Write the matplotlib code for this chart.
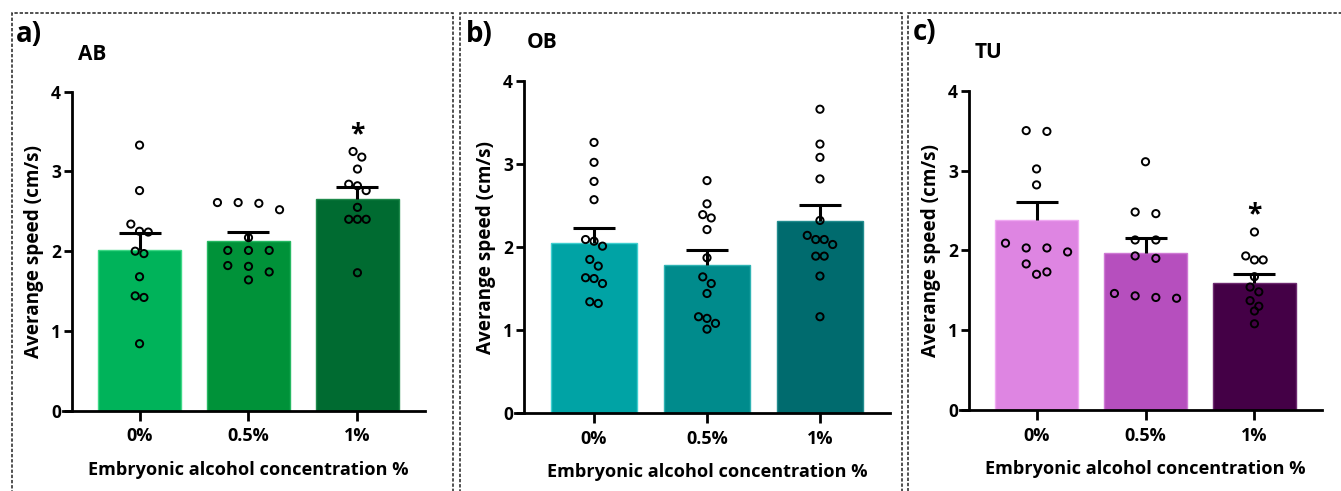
import numpy as np
import matplotlib
matplotlib.use("Agg")
import matplotlib.pyplot as plt
from matplotlib.patches import Rectangle

plt.rcParams['font.family'] = ['Open Sans', 'DejaVu Sans']

groups = ["0%", "0.5%", "1%"]

# individual fish, average speed (cm/s)
ab_pts = [
    [3.33, 2.76, 2.34, 2.25, 2.24, 2.00, 1.97, 1.68, 1.44, 1.42, 0.84],
    [2.61, 2.60, 2.52, 2.61, 2.17, 2.01, 2.01, 2.01, 1.82, 1.81, 1.74, 1.64],
    [3.25, 3.18, 3.03, 2.84, 2.82, 2.76, 2.55, 2.40, 2.40, 2.40, 1.73],
]
ob_pts = [
    [3.26, 3.02, 2.79, 2.57, 2.09, 2.07, 2.01, 1.85, 1.77, 1.63, 1.62, 1.56, 1.34, 1.32],
    [2.80, 2.52, 2.39, 2.35, 2.21, 1.87, 1.64, 1.56, 1.44, 1.16, 1.14, 1.08, 1.01],
    [3.66, 3.24, 3.08, 2.82, 2.32, 2.14, 2.09, 2.09, 2.03, 1.89, 1.89, 1.65, 1.16],
]
tu_pts = [
    [3.50, 3.49, 3.02, 2.82, 2.09, 2.03, 2.03, 1.98, 1.83, 1.73, 1.70],
    [3.11, 2.48, 2.46, 2.13, 2.13, 1.93, 1.90, 1.46, 1.43, 1.41, 1.40],
    [2.23, 1.93, 1.88, 1.88, 1.67, 1.54, 1.48, 1.37, 1.30, 1.24, 1.08],
]

# group means and SEM
ab_mean = [2.02, 2.13, 2.66]
ab_sem = [0.21, 0.11, 0.15]
ob_mean = [2.05, 1.78, 2.31]
ob_sem = [0.18, 0.18, 0.20]
tu_mean = [2.38, 1.97, 1.59]
tu_sem = [0.22, 0.18, 0.11]

ab_sig = [False, False, True]
ob_sig = [False, False, False]
tu_sig = [False, False, True]

panels = [
    dict(tag="a)", name="AB", pts=ab_pts, mean=ab_mean, sem=ab_sem, sig=ab_sig,
         colors=["#00B35A", "#009239", "#006B31"],
         edges=["#3fd886", "#27b862", "#1f8a4c"],
         spread=[0.08, 0.19, 0.08],
         rect=[72, 91.7, 425, 410.7], box=[12, 13, 453, 495],
         tag_xy=(16, 34), name_xy=(78, 54)),
    dict(tag="b)", name="OB", pts=ob_pts, mean=ob_mean, sem=ob_sem, sig=ob_sig,
         colors=["#00A3A5", "#008B8C", "#006B6E"],
         edges=["#40cfd0", "#2fb3b3", "#238c8e"],
         spread=[0.075, 0.075, 0.075],
         rect=[524, 81, 890, 413], box=[460, 13, 902, 495],
         tag_xy=(466, 34), name_xy=(527, 43)),
    dict(tag="c)", name="TU", pts=tu_pts, mean=tu_mean, sem=tu_sem, sig=tu_sig,
         colors=["#DE85E2", "#B64FBE", "#440046"],
         edges=["#f0a9f2", "#cf79d4", "#6e2a70"],
         spread=[0.19, 0.19, 0.08],
         rect=[969, 90.7, 1322, 410], box=[908, 13, 1350, 495],
         tag_xy=(913, 32), name_xy=(975, 52)),
]

W, H = 1341, 491
fig = plt.figure(figsize=(W / 100, H / 100), dpi=100)


def swarm(vals, row_h, step):
    # group close values into rows and spread each row symmetrically
    vals = np.asarray(vals)
    order = np.argsort(-vals)
    offs = np.zeros(len(vals))
    rows, cur = [], [order[0]]
    for i in order[1:]:
        if vals[cur[0]] - vals[i] > row_h:
            rows.append(cur)
            cur = [i]
        else:
            cur.append(i)
    rows.append(cur)
    for r in rows:
        n = len(r)
        for k, i in enumerate(r):
            offs[i] = (k - (n - 1) / 2) * step
    return offs


for p in panels:
    l, t, r, b = p["rect"]
    ax = fig.add_axes([l / W, 1 - b / H, (r - l) / W, (b - t) / H])
    x = np.arange(len(groups))
    ax.bar(x, p["mean"], width=0.76, color=p["colors"], edgecolor=p["edges"],
           linewidth=1.0, zorder=1)
    eb = ax.errorbar(x, p["mean"], yerr=[np.zeros(3), p["sem"]], fmt="none",
                     ecolor="black", elinewidth=2.2, capsize=15, capthick=2.2,
                     zorder=2)
    eb.lines[1][0].set_visible(False)
    for i, vals in enumerate(p["pts"]):
        xo = x[i] + swarm(vals, 0.12, p["spread"][i])
        ax.scatter(xo, vals, s=27, facecolors="none", edgecolors="black",
                   linewidths=1.4, zorder=3)
        if p["sig"][i]:
            top = max(max(vals), p["mean"][i] + p["sem"][i])
            ax.text(x[i], top + 0.04, "*", ha="center", va="bottom",
                    fontsize=19, fontweight="bold")

    ax.set_xlim(-0.62, 2.62)
    ax.set_ylim(0, 4)
    ax.set_yticks([0, 1, 2, 3, 4])
    ax.set_xticks(x)
    ax.set_xticklabels(groups, fontsize=13, fontweight="bold")
    for lab in ax.get_yticklabels():
        lab.set_fontsize(12.5)
        lab.set_fontweight("bold")
    ax.spines[["top", "right"]].set_visible(False)
    ax.spines["left"].set_linewidth(2.0)
    ax.spines["bottom"].set_linewidth(2.0)
    ax.spines["bottom"].set_bounds(-0.62 - 0.08, 2.62)
    ax.tick_params(axis="y", length=6, width=2.0, pad=2)
    ax.tick_params(axis="x", length=7, width=2.0, pad=5)
    ax.set_ylabel("Averange speed (cm/s)", fontsize=13.6, fontweight="bold",
                  labelpad=5)
    ax.set_xlabel("Embryonic alcohol concentration %", fontsize=13.1,
                  fontweight="bold", labelpad=11)

    fig.text(p["tag_xy"][0] / W, 1 - p["tag_xy"][1] / H, p["tag"], fontsize=20,
             fontweight="bold", va="center", ha="left")
    fig.text(p["name_xy"][0] / W, 1 - p["name_xy"][1] / H, p["name"], fontsize=15,
             fontweight="bold", va="center", ha="left")

    bl, bt, br, bb = p["box"]
    fig.add_artist(Rectangle((bl / W, 1 - bb / H), (br - bl) / W, (bb - bt) / H,
                             transform=fig.transFigure, fill=False,
                             edgecolor="#222222", linewidth=1.1,
                             linestyle=(0, (2.2, 1.2)), clip_on=False))

fig.savefig("out.png", dpi=100)
